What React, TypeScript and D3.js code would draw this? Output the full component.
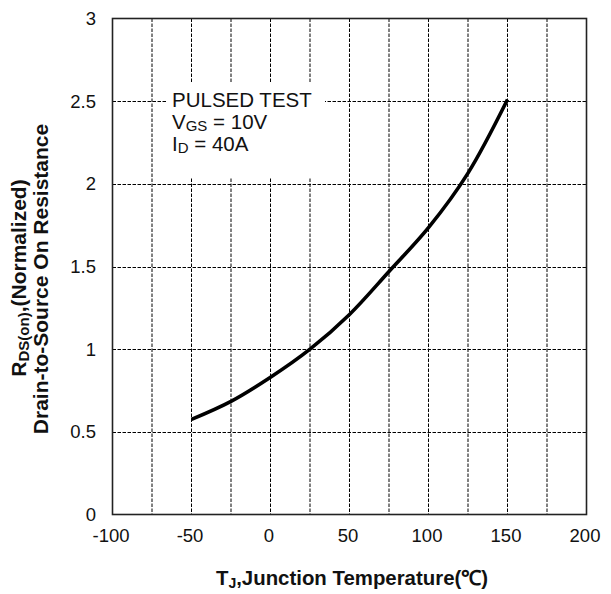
import React from "react";
import * as d3 from "d3";

const temps = [-50, -25, 0, 25, 50, 75, 100, 125, 150];
const rdsOn = [0.575, 0.684, 0.83, 1.0, 1.21, 1.47, 1.735, 2.065, 2.51];
const xTicks = [-100, -50, 0, 50, 100, 150, 200];
const xGrid = [-75, -50, -25, 0, 25, 50, 75, 100, 125, 150, 175];
const yTicks = [0, 0.5, 1, 1.5, 2, 2.5, 3];
const yGrid = [0.5, 1, 1.5, 2, 2.5];

const W = 611;
const H = 594;
const FONT = "'Liberation Sans', Arial, sans-serif";

export default function App() {
  const x = d3.scaleLinear().domain([-100, 200]).range([112.5, 586.5]);
  const y = d3.scaleLinear().domain([0, 3]).range([514.5, 18.5]);
  const data = temps.map((t, i) => [t, rdsOn[i]] as [number, number]);
  const line = d3
    .line<[number, number]>()
    .x((d) => x(d[0]))
    .y((d) => y(d[1]))
    .curve(d3.curveCatmullRom.alpha(0.5));

  const [x0, x1] = x.range();
  const [y0, y1] = y.range();

  return (
    <svg
      width={W}
      height={H}
      style={{ position: "absolute", left: 0, top: 0, background: "#fff" }}
      fontFamily={FONT}
    >
      <rect x={0} y={0} width={W} height={H} fill="#fff" />
      {/* grid */}
      {xGrid.map((v) => (
        <line
          key={"gx" + v}
          x1={x(v)}
          x2={x(v)}
          y1={y1}
          y2={y0}
          stroke="#000"
          strokeWidth={1}
          strokeDasharray="3.5,1.5"
        />
      ))}
      {yGrid.map((v) => (
        <line
          key={"gy" + v}
          x1={x0}
          x2={x1}
          y1={Math.round(y(v)) + 0.5}
          y2={Math.round(y(v)) + 0.5}
          stroke="#000"
          strokeWidth={1}
          strokeDasharray="3.5,1.5"
        />
      ))}
      {/* legend box */}
      <rect x={167} y={82} width={158} height={96} fill="#fff" />
      <g fontSize={20.5} fill="#111">
        <text x={172} y={107}>PULSED TEST</text>
        <text x={172} y={128.5}>
          V<tspan fontSize={15} dy={2.5}>GS</tspan>
          <tspan dy={-2.5}> = 10V</tspan>
        </text>
        <text x={172} y={150.5}>
          I<tspan fontSize={15} dy={2.5}>D</tspan>
          <tspan dy={-2.5}> = 40A</tspan>
        </text>
      </g>
      {/* frame */}
      <rect
        x={x0}
        y={y1}
        width={x1 - x0}
        height={y0 - y1}
        fill="none"
        stroke="#222"
        strokeWidth={1.6}
      />
      {/* curve */}
      <path
        d={line(data) || ""}
        fill="none"
        stroke="#000"
        strokeWidth={3.6}
        strokeLinecap="butt"
      />
      {/* x tick labels */}
      <g fontSize={18.5} fill="#111" textAnchor="middle">
        {xTicks.map((v) => (
          <text key={"xt" + v} x={x(v) - 1.5} y={542}>
            {v}
          </text>
        ))}
      </g>
      {/* y tick labels */}
      <g fontSize={18.5} fill="#111" textAnchor="end">
        {yTicks.map((v) => (
          <text key={"yt" + v} x={96} y={y(v) + 6.5}>
            {v}
          </text>
        ))}
      </g>
      {/* x axis title */}
      <text
        x={352}
        y={585}
        fontSize={20.4}
        fontWeight="bold"
        fill="#111"
        textAnchor="middle"
      >
        T<tspan fontSize={14} dy={3}>J</tspan>
        <tspan dy={-3}>,Junction Temperature(℃)</tspan>
      </text>
      {/* y axis title */}
      <g transform="translate(26,278) rotate(-90)">
        <text x={0} y={0} fontSize={21} fontWeight="bold" fill="#111" textAnchor="middle">
          R<tspan fontSize={15} dy={3}>DS(on)</tspan>
          <tspan dy={-3}>,(Normalized)</tspan>
        </text>
      </g>
      <g transform="translate(48,279) rotate(-90)">
        <text x={0} y={0} fontSize={21} fontWeight="bold" fill="#111" textAnchor="middle">
          Drain-to-Source On Resistance
        </text>
      </g>
    </svg>
  );
}
